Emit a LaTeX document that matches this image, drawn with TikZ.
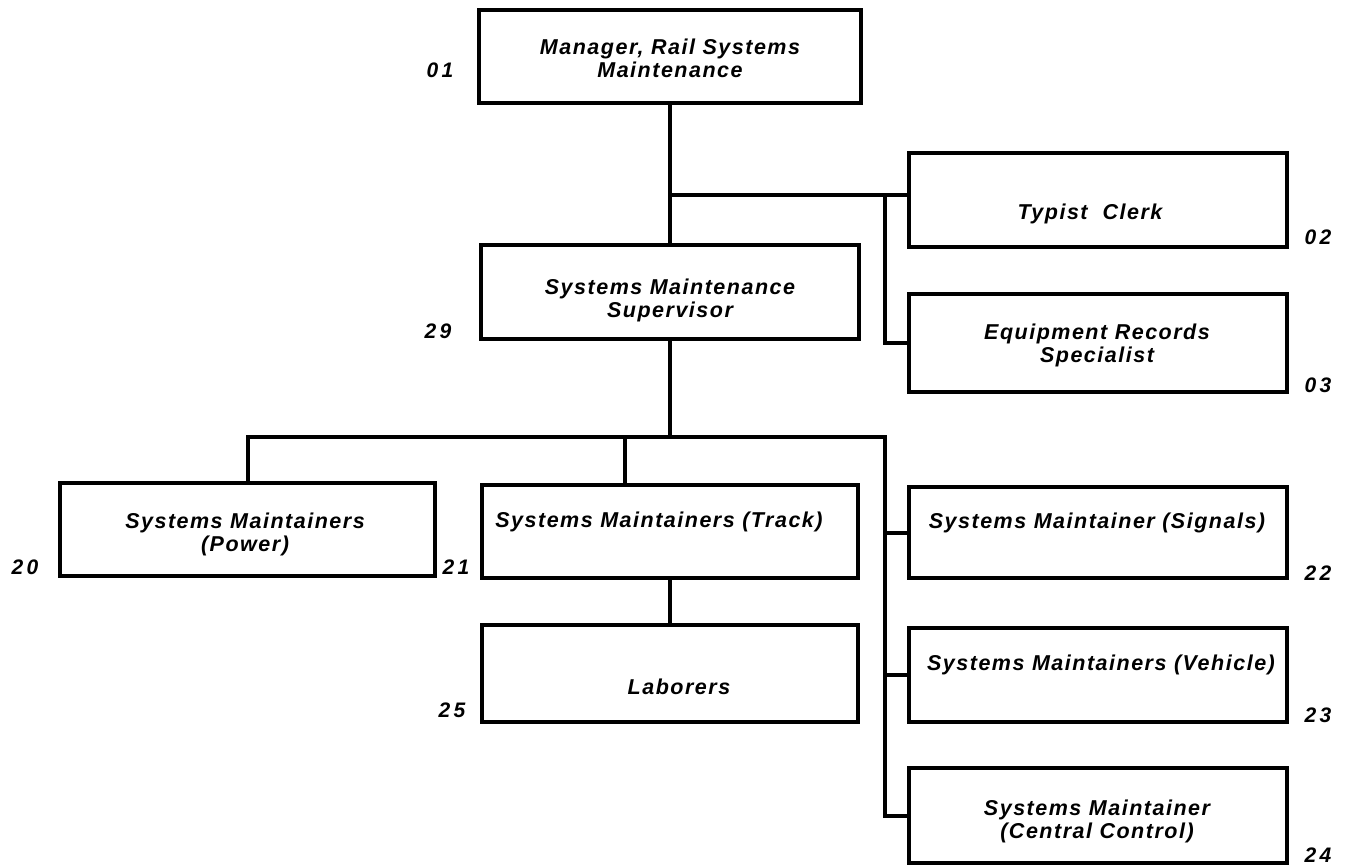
\documentclass[tikz,border=0pt]{standalone}
\usepackage{fontspec}
\setmainfont{Liberation Sans}[LetterSpace=7]
\begin{document}
\begin{tikzpicture}[x=1pt,y=-1pt,
  box/.style={draw, line width=4.5pt, inner sep=0pt, minimum width=378pt},
  lbl/.style={font=\fontsize{21.5}{23}\selectfont\bfseries\itshape, align=center, inner sep=0pt},
  num/.style={font=\fontsize{21}{23}\selectfont\bfseries\itshape, inner sep=0pt},
  link/.style={line width=4pt, line cap=rect}]
\useasboundingbox (0,0) rectangle (1345,868);

% position boxes
\node[box, minimum height=93pt, minimum width=382pt] (mgr) at (670,56.5) {};
\node[box, minimum height=94pt] (typ) at (1098,200) {};
\node[box, minimum height=98pt] (eqp) at (1098,343) {};
\node[box, minimum height=94pt] (sup) at (670,292) {};
\node[box, minimum height=93pt, minimum width=375pt] (pwr) at (247.5,529.5) {};
\node[box, minimum height=93pt, minimum width=376pt] (trk) at (670,531.5) {};
\node[box, minimum height=97pt, minimum width=376pt] (lab) at (670,673.5) {};
\node[box, minimum height=91pt] (sig) at (1098,532.5) {};
\node[box, minimum height=94pt] (veh) at (1098,675) {};
\node[box, minimum height=95pt] (cc) at (1098,815.5) {};

% titles
\node[lbl] (mgr-t) at (670,58) {Manager, Rail Systems\\Maintenance};
\node[lbl] (typ-t) at (1090,214) {Typist\ \ Clerk};
\node[lbl] (eqp-t) at (1097,345) {Equipment Records\\Specialist};
\node[lbl] (sup-t) at (670,300) {Systems Maintenance\\Supervisor};
\node[lbl] (pwr-t) at (245,534) {Systems Maintainers\\(Power)};
\node[lbl] (trk-t) at (659,522) {Systems Maintainers (Track)};
\node[lbl] (lab-t) at (679,687) {Laborers};
\node[lbl] (sig-t) at (1097,523) {Systems Maintainer (Signals)};
\node[lbl] (veh-t) at (1101,665) {Systems Maintainers (Vehicle)};
\node[lbl] (cc-t) at (1097,821) {Systems Maintainer\\(Central Control)};

% position codes
\node[num] (n01) at (440,70) {0\,1};
\node[num] (n02) at (1318,237) {0\,2};
\node[num] (n03) at (1318,385) {0\,3};
\node[num] (n29) at (438,331) {2\,9};
\node[num] (n20) at (25,567) {2\,0};
\node[num] (n21) at (456,567) {2\,1};
\node[num] (n25) at (452,710) {2\,5};
\node[num] (n22) at (1318,573) {2\,2};
\node[num] (n23) at (1318,715) {2\,3};
\node[num] (n24) at (1318,855) {2\,4};

% junction points
\coordinate (j1) at (670,195);
\coordinate (j2) at (885,195);
\coordinate (j3) at (670,437);
\coordinate (jl) at (247.5,437);
\coordinate (jt) at (625,437);
\coordinate (jr) at (885,437);

% reporting lines
\draw[link] (mgr.south) -- (sup.north);
\draw[link] (j1) -- (j1 -| typ.west);
\draw[link] (j2) |- (eqp.west);
\draw[link] (sup.south) -- (j3);
\draw[link] (jl) -- (jr);
\draw[link] (jl) -- (pwr.north);
\draw[link] (jt) -- (jt |- trk.north);
\draw[link] (jr) |- (cc.west);
\draw[link] (jr |- sig.west) -- (sig.west);
\draw[link] (jr |- veh.west) -- (veh.west);
\draw[link] (trk.south) -- (lab.north);
\end{tikzpicture}
\end{document}
